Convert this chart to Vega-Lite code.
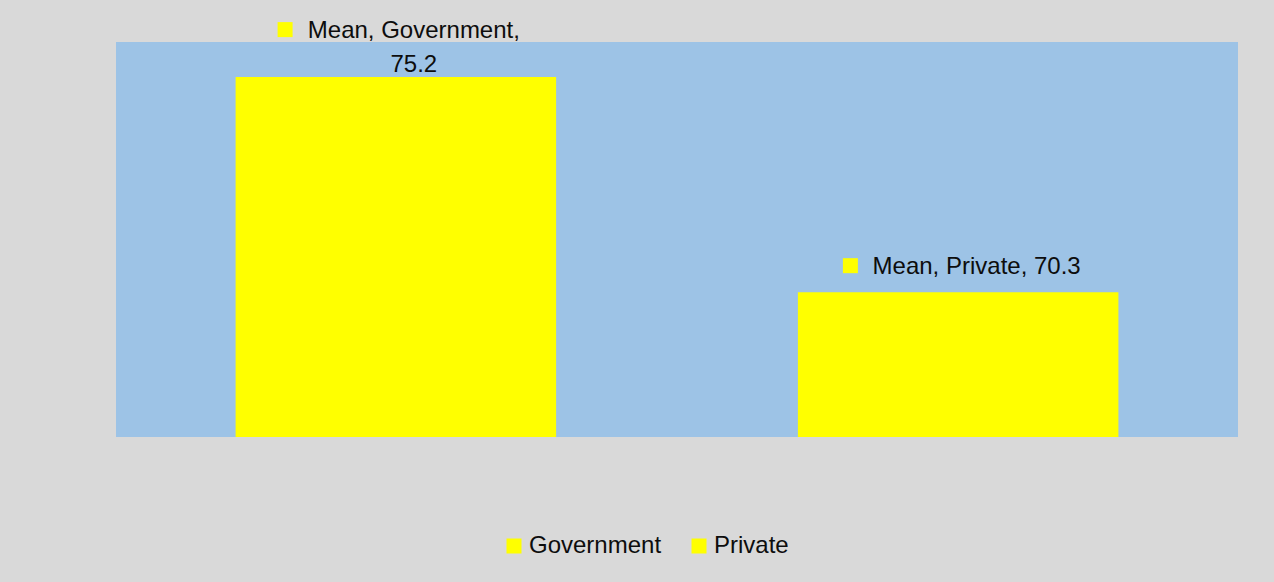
{
  "$schema": "https://vega.github.io/schema/vega-lite/v6.json",
  "width": 1122,
  "height": 395,
  "autosize": {"type": "none"},
  "padding": {"left": 116, "top": 42, "right": 36, "bottom": 145},
  "background": "#d9d9d9",
  "config": {
    "font": "Liberation Sans",
    "view": {"fill": "#9dc3e6", "stroke": null}
  },
  "data": {
    "values": [
      {"sector": "Government", "mean": 75.2, "label": "Mean, Government,\n75.2"},
      {"sector": "Private", "mean": 70.3, "label": "Mean, Private, 70.3"}
    ]
  },
  "encoding": {
    "x": {"field": "sector", "type": "nominal", "axis": null,
          "scale": {"paddingInner": 0.43, "paddingOuter": 0.2127}},
    "y": {"field": "mean", "type": "quantitative", "axis": null,
          "scale": {"domain": [67, 76], "zero": false, "nice": false}}
  },
  "layer": [
    {
      "mark": {"type": "bar", "clip": true},
      "encoding": {
        "color": {"field": "sector", "type": "nominal",
          "scale": {"range": ["#ffff00", "#ffff00"]},
          "legend": {"orient": "none", "legendX": 386, "legendY": 492,
            "direction": "horizontal", "title": null,
            "symbolType": "square", "symbolSize": 225, "symbolStrokeWidth": 0,
            "symbolOpacity": 1, "labelFontSize": 24, "labelColor": "#0d0d0d",
            "labelFont": "Liberation Sans", "columnPadding": 25, "labelOffset": 3}},
        "y2": {"datum": 67}
      }
    },
    {
      "transform": [{"filter": "datum.sector == 'Government'"}],
      "mark": {"type": "text", "align": "center", "baseline": "alphabetic",
               "fontSize": 24, "color": "#0d0d0d", "lineBreak": "\n",
               "lineHeight": 34, "dx": 18, "dy": -39},
      "encoding": {"text": {"field": "label"}}
    },
    {
      "transform": [{"filter": "datum.sector == 'Government'"}],
      "mark": {"type": "point", "shape": "square", "filled": true, "size": 225,
               "color": "#ffff00", "opacity": 1},
      "encoding": {"xOffset": {"value": 49.5}, "yOffset": {"value": -47.5}}
    },
    {
      "transform": [{"filter": "datum.sector == 'Private'"}],
      "mark": {"type": "text", "align": "center", "baseline": "alphabetic",
               "fontSize": 24, "color": "#0d0d0d", "dx": 18.5, "dy": -18},
      "encoding": {"text": {"field": "label"}}
    },
    {
      "transform": [{"filter": "datum.sector == 'Private'"}],
      "mark": {"type": "point", "shape": "square", "filled": true, "size": 225,
               "color": "#ffff00", "opacity": 1},
      "encoding": {"xOffset": {"value": 52.5}, "yOffset": {"value": -26.5}}
    }
  ]
}
